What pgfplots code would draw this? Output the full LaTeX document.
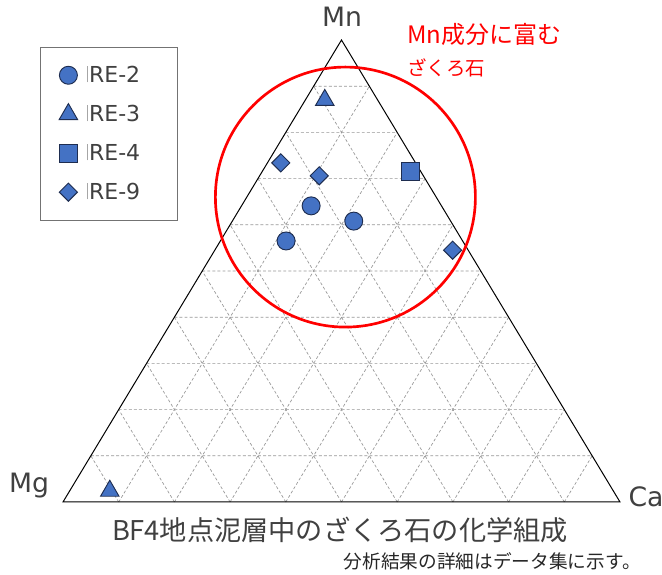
\documentclass[border=0pt]{standalone}
\usepackage{fontspec}
\setmainfont{Noto Sans CJK JP}
\newfontfamily\lat{DejaVu Sans}
\usepackage{pgfplots}
\pgfplotsset{compat=1.18}
\definecolor{mkfill}{RGB}{68,114,196}
\definecolor{mkdraw}{RGB}{30,45,80}
\definecolor{txt}{RGB}{64,64,64}
\definecolor{gridc}{RGB}{150,150,150}
\newcommand{\lgbar}{\hspace*{5pt}\textcolor{black!35}{\rule{0.6pt}{0.74em}}\hspace{1pt}}
\begin{document}
\begin{tikzpicture}
\useasboundingbox (-47.25pt,-54.75pt) rectangle (449.25pt,376.5pt);
\begin{axis}[
  at={(0pt,0pt)}, anchor=origin,
  scale only axis, width=417.75pt, height=346.5pt,
  xmin=0, xmax=1, ymin=0, ymax=1,
  hide axis, clip=false,
  legend cell align=left,
  legend style={at={(axis description cs:-0.0413,0.985)}, anchor=north west,
    draw=black!55, line width=0.75pt, inner xsep=14pt, inner ysep=12pt,
    row sep=11.5pt, font=\lat\fontsize{16.5}{18}\selectfont\color{txt}},
  mk/.style={only marks, mark options={fill=mkfill, draw=mkdraw, line width=0.7pt}},
]
% grid, 10 % steps
\pgfplotsinvokeforeach{1,...,9}{
  \draw[gridc, dashed, dash pattern=on 2.2pt off 1.6pt, line width=0.5pt]
    (axis cs:#1/20,#1/10) -- (axis cs:1-#1/20,#1/10)
    (axis cs:#1/10,0) -- (axis cs:0.5+#1/20,1-#1/10)
    (axis cs:1-#1/10,0) -- (axis cs:0.5-#1/20,1-#1/10);
}
\draw[black, line width=0.75pt] (axis cs:0,0) -- (axis cs:1,0) -- (axis cs:0.5,1) -- cycle;
\draw[red, line width=2pt] (axis cs:0.507,0.660) circle[radius=97.5pt];

% Mn Mg Ca in %
\addplot[mk, mark=*, mark size=6.75pt] table[x expr=(\thisrow{Ca}+0.5*\thisrow{Mn})/100, y expr=\thisrow{Mn}/100] {
Mn   Mg   Ca
64.1 23.4 12.5
60.8 17.4 21.8
56.5 31.7 11.8
};
\addlegendentry{\lgbar RE-2\hspace*{12pt}}
\addplot[mk, mark=triangle*, mark size=8pt] table[x expr=(\thisrow{Ca}+0.5*\thisrow{Mn})/100, y expr=\thisrow{Mn}/100] {
Mn   Mg   Ca
87.0 9.5  3.5
2.4  90.4 7.2
};
\addlegendentry{\lgbar RE-3}
\addplot[mk, mark=square*, mark size=6.75pt] table[x expr=(\thisrow{Ca}+0.5*\thisrow{Mn})/100, y expr=\thisrow{Mn}/100] {
Mn   Mg   Ca
71.6 1.9  26.5
};
\addlegendentry{\lgbar RE-4}
\addplot[only marks, mark=square*, mark size=4.8pt,
  mark options={fill=mkfill, draw=mkdraw, line width=0.7pt, rotate=45}] table[x expr=(\thisrow{Ca}+0.5*\thisrow{Mn})/100, y expr=\thisrow{Mn}/100] {
Mn   Mg   Ca
73.4 24.2 2.4
70.6 18.7 10.7
54.5 2.8  42.7
};
\addlegendentry{\lgbar RE-9}
\end{axis}
\node[anchor=base, txt, font=\lat\fontsize{20}{22}\selectfont] at (209.25pt,356.25pt) {Mn};
\node[anchor=base, txt, font=\lat\fontsize{20}{22}\selectfont] at (-25.5pt,6.75pt) {Mg};
\node[anchor=base, txt, font=\lat\fontsize{20}{22}\selectfont] at (437.25pt,-3.75pt) {Ca};
\node[anchor=base west, red, font=\fontsize{18}{20}\selectfont, inner sep=0pt] at (258pt,343.5pt) {Mn成分に富む};
\node[anchor=base west, red, font=\fontsize{14.6}{17}\selectfont, inner sep=0pt] at (258pt,319.5pt) {ざくろ石};
\node[anchor=base, txt, font=\fontsize{20.4}{24}\selectfont, inner sep=0pt] at (207.75pt,-29.25pt) {BF4地点泥層中のざくろ石の化学組成};
\node[anchor=base east, black!85, font=\fontsize{14}{16}\selectfont, inner sep=0pt] at (433.5pt,-50.25pt) {分析結果の詳細はデータ集に示す。};
\end{tikzpicture}
\end{document}
